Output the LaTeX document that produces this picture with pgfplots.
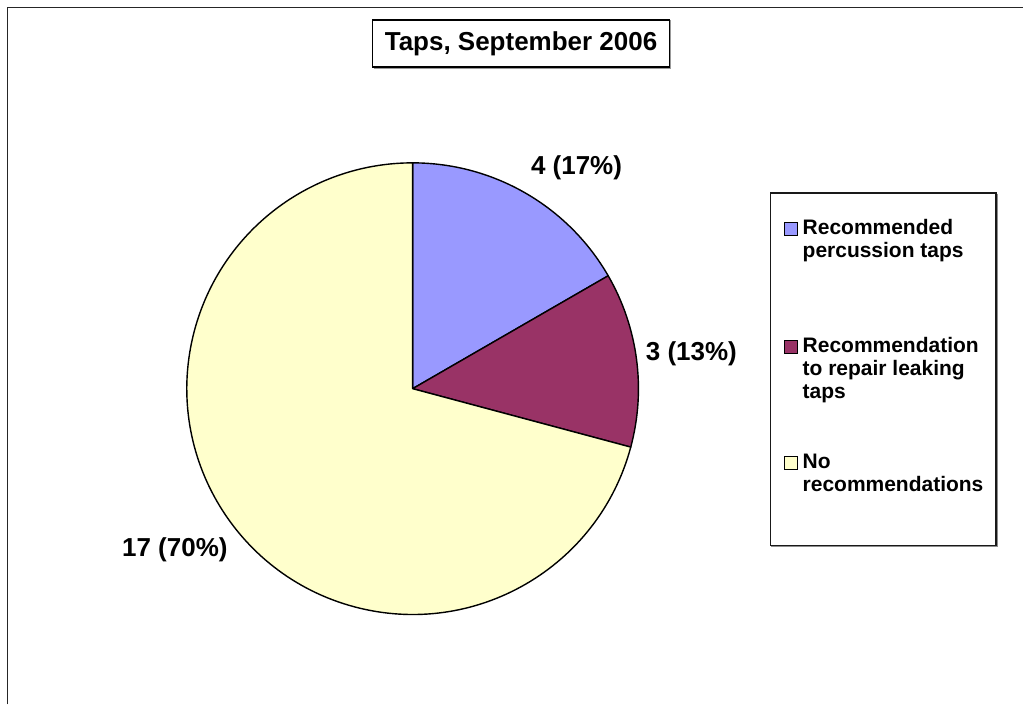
\documentclass[border=0pt]{standalone}
\usepackage{pgfplots}
\usepackage{pgfplotstable}
\usepackage{fontspec}
\setmainfont{Liberation Sans}
\pgfplotsset{compat=1.18}

\definecolor{pieblue}{HTML}{9999FF}
\definecolor{piemaroon}{HTML}{993366}
\definecolor{pieyellow}{HTML}{FFFFCC}

% counts per category
\pgfplotstableread{
n
4
3
17
}\piedata

\pgfplotstablegetelem{0}{n}\of\piedata \let\vA\pgfplotsretval
\pgfplotstablegetelem{1}{n}\of\piedata \let\vB\pgfplotsretval
\pgfplotstablegetelem{2}{n}\of\piedata \let\vC\pgfplotsretval
\pgfmathsetmacro\tot{\vA+\vB+\vC}
\pgfmathsetmacro\angA{90-360*\vA/\tot}
\pgfmathsetmacro\angB{\angA-360*\vB/\tot}
\pgfmathsetmacro\angC{\angB-360*\vC/\tot}

\newcommand{\pieR}{113bp}

\begin{document}
\begin{tikzpicture}
\begin{axis}[
    scale only axis,
    width=512bp, height=352.5bp,
    xmin=0, xmax=1024, ymin=0, ymax=705,
    y dir=reverse,
    hide axis,
    clip=false,
]
\path (axis cs:0,0) rectangle (axis cs:1024,705);

% outer chart frame (left and top edges visible)
\draw[line width=0.9bp, black!85] (axis cs:7.5,705) -- (axis cs:7.5,7.5) -- (axis cs:1024,7.5);

% pie slices, clockwise from 12 o'clock
\filldraw[fill=pieblue, draw=black, line width=0.7bp, line join=round]
  (axis cs:413,389) -- ++(90:\pieR) arc[start angle=90, end angle=\angA, radius=\pieR] -- cycle;
\filldraw[fill=piemaroon, draw=black, line width=0.7bp, line join=round]
  (axis cs:413,389) -- ++(\angA:\pieR) arc[start angle=\angA, end angle=\angB, radius=\pieR] -- cycle;
\filldraw[fill=pieyellow, draw=black, line width=0.7bp, line join=round]
  (axis cs:413,389) -- ++(\angB:\pieR) arc[start angle=\angB, end angle=\angC, radius=\pieR] -- cycle;

% data labels
\node[font=\fontsize{13bp}{15bp}\selectfont\bfseries] at (axis cs:577,168) {4 (17\%)};
\node[font=\fontsize{13bp}{15bp}\selectfont\bfseries] at (axis cs:692,354) {3 (13\%)};
\node[font=\fontsize{13bp}{15bp}\selectfont\bfseries] at (axis cs:175,550) {17 (70\%)};

% title box
\draw[black!40, line width=0.6bp] (axis cs:374,21) -- (axis cs:671,21) -- (axis cs:671,68) -- (axis cs:374,68);
\node[draw=black, line width=0.6bp, fill=white, minimum width=148.5bp, minimum height=23.5bp,
      inner sep=0pt, font=\fontsize{13bp}{15bp}\selectfont\bfseries]
  at (axis cs:521.5,43.5) {Taps, September 2006};

% legend box with shadow
\draw[black!45, line width=0.8bp] (axis cs:998,194) -- (axis cs:998,547) -- (axis cs:772,547);
\filldraw[fill=white, draw=black!90, line width=0.7bp] (axis cs:771,193) rectangle (axis cs:997,546);

% legend markers
\filldraw[fill=pieblue, draw=black, line width=0.6bp] (axis cs:785,223) rectangle (axis cs:798,236);
\filldraw[fill=piemaroon, draw=black, line width=0.6bp] (axis cs:785,341) rectangle (axis cs:798,354);
\filldraw[fill=pieyellow, draw=black, line width=0.6bp] (axis cs:785,457) rectangle (axis cs:798,470);

% legend text
\begin{scope}[every node/.style={anchor=base west, inner sep=0pt, font=\fontsize{10.5bp}{12bp}\selectfont\bfseries}]
\node at (axis cs:803,235) {Recommended};
\node at (axis cs:803,258) {percussion taps};
\node at (axis cs:803,353) {Recommendation};
\node at (axis cs:803,376) {to repair leaking};
\node at (axis cs:803,399) {taps};
\node at (axis cs:803,469) {No};
\node at (axis cs:803,492) {recommendations};
\end{scope}
\end{axis}
\end{tikzpicture}
\end{document}
